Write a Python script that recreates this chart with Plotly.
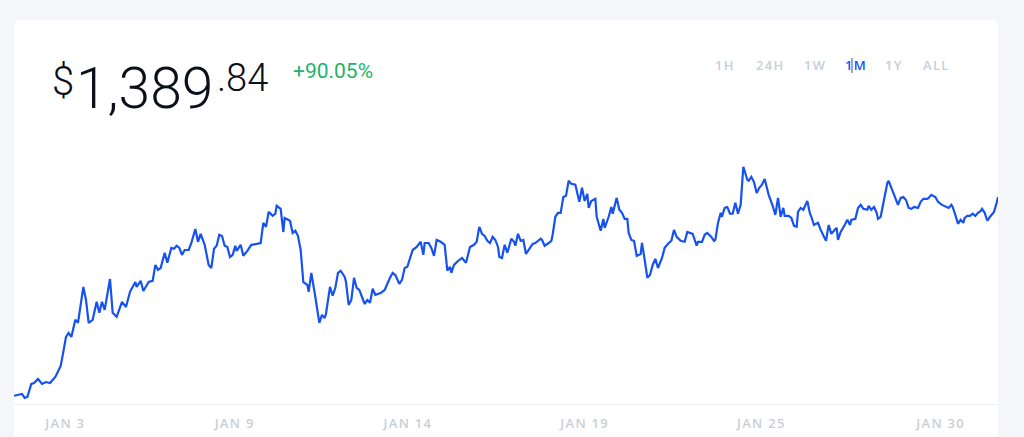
import plotly.graph_objects as go

# hours since the start of the 1M window, and price in USD
hours = [
    0, 6, 8, 10, 13, 15, 18, 21, 24, 27, 31, 35, 37, 39, 41, 43, 46, 48, 52, 54,
    56, 59, 62, 64, 66, 68, 72, 74, 77, 81, 84, 87, 91, 92, 95, 97, 98, 101, 104, 106,
    108, 110, 113, 115, 118, 120, 122, 124, 126, 128, 131, 133, 136, 138, 140, 143, 146, 148, 150, 152,
    154, 156, 158, 160, 162, 164, 166, 167, 170, 172, 175, 178, 182, 185, 187, 189, 191, 194, 196, 197,
    200, 202, 203, 207, 209, 211, 213, 215, 217, 220, 221, 223, 226, 229, 231, 233, 234, 237, 239, 241,
    243, 245, 248, 249, 251, 253, 255, 257, 259, 261, 263, 265, 267, 269, 271, 275, 278, 282, 284, 286,
    289, 291, 293, 295, 297, 299, 302, 305, 307, 308, 311, 313, 315, 317, 320, 323, 325, 327, 328, 330,
    333, 336, 339, 342, 345, 347, 349, 351, 353, 355, 357, 359, 361, 363, 364, 366, 368, 370, 373, 375,
    376, 378, 380, 382, 384, 387, 389, 391, 395, 396, 398, 401, 403, 404, 406, 408, 410, 412, 414, 416,
    418, 421, 424, 426, 428, 430, 431, 433, 436, 437, 440, 442, 443, 446, 448, 449, 452, 454, 456, 458,
    460, 461, 463, 465, 467, 470, 471, 473, 475, 477, 479, 481, 483, 486, 488, 491, 493, 495, 497, 500,
    503, 505, 508, 509, 512, 513, 516, 518, 520, 523, 525, 526, 528, 530, 531, 533, 535, 537, 539, 541,
    543, 545, 547, 550, 551, 553, 555, 557, 559, 561, 563, 565, 566, 569, 571, 573, 575, 577, 578, 581,
    583, 585, 587, 588, 590, 592, 595, 597, 598, 600, 603, 605, 607, 609, 611, 613, 615, 617, 618, 620,
    623, 625, 627, 628, 631, 633, 635, 637, 640, 641, 643, 645, 647, 648, 650, 653, 655, 656, 658, 661,
    663, 665, 667, 669, 671, 673, 675, 678, 680, 682, 685, 686, 688, 691, 693, 696, 699, 701, 703, 704,
    706, 708, 710, 712, 713, 715, 717, 719, 721, 723, 725, 726, 728, 730, 732, 735, 737, 738,
]
price = [
    738, 744, 731, 734, 777, 780, 793, 777, 783, 780, 800, 836, 882, 931, 944, 931, 987, 977, 1095, 1052,
    977, 987, 1046, 1010, 1046, 1020, 1121, 1010, 997, 1046, 1029, 1079, 1111, 1095, 1115, 1082, 1089, 1111, 1115, 1167,
    1151, 1157, 1207, 1174, 1223, 1220, 1230, 1223, 1200, 1216, 1216, 1239, 1285, 1243, 1269, 1233, 1167, 1157, 1220, 1230,
    1266, 1262, 1230, 1226, 1193, 1200, 1230, 1213, 1233, 1197, 1213, 1233, 1236, 1239, 1305, 1292, 1341, 1328, 1335, 1361,
    1351, 1275, 1321, 1312, 1272, 1279, 1262, 1216, 1111, 1102, 1079, 1141, 1062, 977, 1003, 993, 1007, 1095, 1066, 1092,
    1141, 1148, 1128, 1111, 1036, 1052, 1125, 1092, 1085, 1062, 1039, 1052, 1043, 1089, 1069, 1075, 1085, 1125, 1141, 1134,
    1105, 1118, 1157, 1161, 1187, 1216, 1226, 1243, 1200, 1239, 1239, 1223, 1197, 1249, 1243, 1233, 1148, 1161, 1141, 1167,
    1180, 1190, 1174, 1226, 1233, 1243, 1292, 1269, 1262, 1246, 1239, 1259, 1249, 1226, 1193, 1190, 1233, 1207, 1253, 1243,
    1230, 1269, 1246, 1249, 1203, 1223, 1236, 1239, 1253, 1249, 1230, 1239, 1246, 1266, 1325, 1338, 1338, 1390, 1394, 1443,
    1433, 1430, 1374, 1420, 1377, 1400, 1354, 1377, 1384, 1325, 1279, 1318, 1289, 1325, 1357, 1335, 1387, 1348, 1338, 1318,
    1318, 1272, 1249, 1246, 1197, 1203, 1239, 1184, 1125, 1134, 1167, 1187, 1157, 1190, 1223, 1239, 1246, 1282, 1259, 1246,
    1243, 1275, 1272, 1269, 1230, 1243, 1243, 1266, 1272, 1259, 1246, 1249, 1305, 1338, 1325, 1354, 1357, 1335, 1335, 1371,
    1335, 1364, 1489, 1446, 1443, 1456, 1439, 1403, 1420, 1430, 1449, 1413, 1397, 1361, 1331, 1387, 1325, 1354, 1328, 1328,
    1321, 1295, 1292, 1341, 1354, 1348, 1377, 1335, 1325, 1298, 1305, 1282, 1266, 1246, 1298, 1269, 1279, 1289, 1249, 1275,
    1298, 1315, 1298, 1315, 1318, 1354, 1364, 1351, 1348, 1361, 1348, 1357, 1338, 1318, 1325, 1387, 1436, 1443, 1420, 1387,
    1364, 1387, 1390, 1380, 1354, 1351, 1357, 1354, 1374, 1384, 1384, 1387, 1397, 1390, 1374, 1364, 1357, 1354, 1364, 1357,
    1331, 1302, 1315, 1305, 1321, 1328, 1328, 1335, 1328, 1338, 1344, 1351, 1338, 1312, 1325, 1341, 1371, 1389.84,
]

tick_hours = [38, 165, 295, 427.5, 560, 694.5]
tick_labels = ["JAN 3", "JAN 9", "JAN 14", "JAN 19", "JAN 25", "JAN 30"]

ranges = ["1H", "24H", "1W", "1M", "1Y", "ALL"]
range_x = [724.5, 769, 815, 855, 893, 935.5]
active_range = "1M"

current_whole = "1,389"
current_cents = ".84"
change_pct = "+90.05%"

W, H = 1024, 437
L, R, T, B = 14, 26, 150, 33
BLUE = "#1652f0"
PAGE = "#f4f6f9"
HAIR = "\u200a"  # poor man's letter-spacing


def px(x):
    return (x - L) / (W - L - R)


def py(y):
    return (H - B - y) / (H - T - B)


def spaced(s):
    return HAIR.join(s)


fig = go.Figure(
    go.Scatter(
        x=hours,
        y=price,
        mode="lines",
        line=dict(color=BLUE, width=2.2),
        hoverinfo="skip",
    )
)

# white card with rounded top corners
rad = 6
cx0, cx1 = px(14), px(998)
cy_top, cy_bot = py(20), py(470)
rx, ry = rad / (W - L - R), rad / (H - T - B)
card = (
    f"M {cx0},{cy_bot} L {cx0},{cy_top - ry} Q {cx0},{cy_top} {cx0 + rx},{cy_top} "
    f"L {cx1 - rx},{cy_top} Q {cx1},{cy_top} {cx1},{cy_top - ry} L {cx1},{cy_bot} Z"
)
fig.add_shape(type="path", path=card, xref="paper", yref="paper",
              fillcolor="white", line=dict(width=0), layer="below")


def label(x, y, text, anchor="left", **font):
    fig.add_annotation(x=px(x), y=py(y), xref="paper", yref="paper", text=text, showarrow=False,
                       xanchor=anchor, yanchor="middle", font=font)


big = "Roboto"
ink = "#0a0f19"
label(50, 81, "&#36;", family=big, size=40, color=ink, weight=300)
label(74, 88, current_whole, family=big, size=57, color=ink, weight=300)
label(215, 78, current_cents, family=big, size=38, color=ink, weight=300)
label(291, 71, change_pct, family=big, size=21, color="#22b36b")

for name, cx in zip(ranges, range_x):
    label(cx, 65, spaced(name), anchor="center", family="Open Sans", size=13, weight=600,
          color=BLUE if name == active_range else "#c8cfd8")
# text cursor sitting in the active button
fig.add_shape(type="line", xref="paper", yref="paper", x0=px(852), x1=px(852), y0=py(58), y1=py(73),
              line=dict(color=BLUE, width=1))

fig.update_layout(
    width=W,
    height=H,
    margin=dict(l=L, r=R, t=T, b=B, autoexpand=False),
    paper_bgcolor=PAGE,
    plot_bgcolor="white",
    showlegend=False,
    xaxis=dict(
        range=[0, 738],
        tickvals=tick_hours,
        ticktext=[spaced(t) for t in tick_labels],
        showgrid=False,
        zeroline=False,
        showline=True,
        linecolor="#eef0f3",
        linewidth=1,
        ticks="",
        automargin=False,
        ticklabelstandoff=7,
        tickfont=dict(family="Open Sans", size=13, weight=600, color="#c8cfd8"),
        fixedrange=True,
    ),
    yaxis=dict(range=[711, 1544], visible=False, fixedrange=True),
)

fig.write_html("out.html", config={"displayModeBar": False},
               post_script="document.body.style.margin = '0';")
